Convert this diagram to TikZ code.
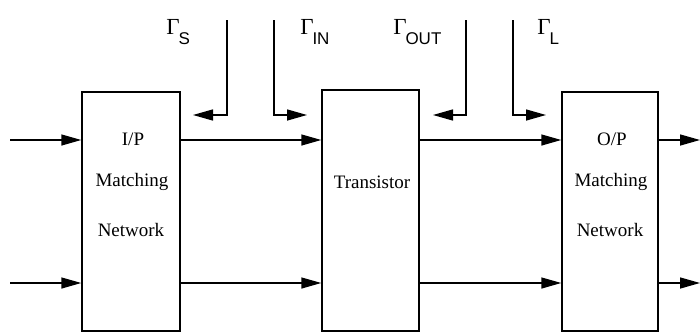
\documentclass[tikz,border=0pt]{standalone}
\usepackage{fontspec}
\setmainfont{Liberation Serif}
\setsansfont{Liberation Sans}
\usetikzlibrary{fit,arrows.meta}
\tikzset{
  blk/.style={draw, line width=0.75pt, inner sep=0pt},
  txt/.style={font=\fontsize{9.5}{11}\selectfont, inner sep=0pt},
  lbl/.style={font=\fontsize{11.5}{13}\selectfont, inner sep=0pt, anchor=base west},
  sig/.style={line width=0.75pt, -{Triangle[length=10pt,width=5.5pt]}},
  refl/.style={line width=0.75pt, -{Triangle[length=10pt,width=5.5pt]}}
}
\newcommand{\gsub}[1]{Γ\kern-0.6pt\raisebox{-5pt}{\sffamily\fontsize{8.5}{9}\selectfont #1}}
\begin{document}
\begin{tikzpicture}[x=0.5pt,y=-0.5pt]
\useasboundingbox (0,0) rectangle (700,332);
% boxes
\node[blk, fit={(82,92)(180,331)}] (ip) {};
\node[blk, fit={(322,90)(419,331)}] (tr) {};
\node[blk, fit={(562,92)(658,331)}] (op) {};
% box texts
\node[txt] (ipa) at (133,139) {I/P};
\node[txt] (ipb) at (132,182) {Matching};
\node[txt] (ipc) at (131,230) {Network};
\node[txt] (tra) at (372,182) {Transistor};
\node[txt] (opa) at (612,139) {O/P};
\node[txt] (opb) at (611,182) {Matching};
\node[txt] (opc) at (610,230) {Network};
% row coordinates
\coordinate (r1) at (0,140);
\coordinate (r2) at (0,283);
\coordinate (in1) at (10,140);
\coordinate (in2) at (10,283);
\coordinate (out1) at (700,140);
\coordinate (out2) at (700,283);
% signal arrows
\draw[sig] (in1) -- (ip.west |- r1);
\draw[sig] (in2) -- (ip.west |- r2);
\draw[sig] (ip.east |- r1) -- (tr.west |- r1);
\draw[sig] (ip.east |- r2) -- (tr.west |- r2);
\draw[sig] (tr.east |- r1) -- (op.west |- r1);
\draw[sig] (tr.east |- r2) -- (op.west |- r2);
\draw[sig] (op.east |- r1) -- (out1);
\draw[sig] (op.east |- r2) -- (out2);
% reflection coefficient arrows
\coordinate (gsT) at (227,20);  \coordinate (gsE) at (193,115);
\coordinate (ginT) at (274,20); \coordinate (ginE) at (307,115);
\coordinate (goT) at (466,20);  \coordinate (goE) at (433,115);
\coordinate (glT) at (513,20);  \coordinate (glE) at (546,115);
\draw[refl] (gsT) |- (gsE);
\draw[refl] (ginT) |- (ginE);
\draw[refl] (goT) |- (goE);
\draw[refl] (glT) |- (glE);
% labels
\node[lbl] (lS) at (166,34) {\gsub{S}};
\node[lbl] (lIN) at (300,34) {\gsub{IN}};
\node[lbl] (lOUT) at (393,34) {\gsub{OUT}};
\node[lbl] (lL) at (537,34) {\gsub{L}};
\end{tikzpicture}
\end{document}
